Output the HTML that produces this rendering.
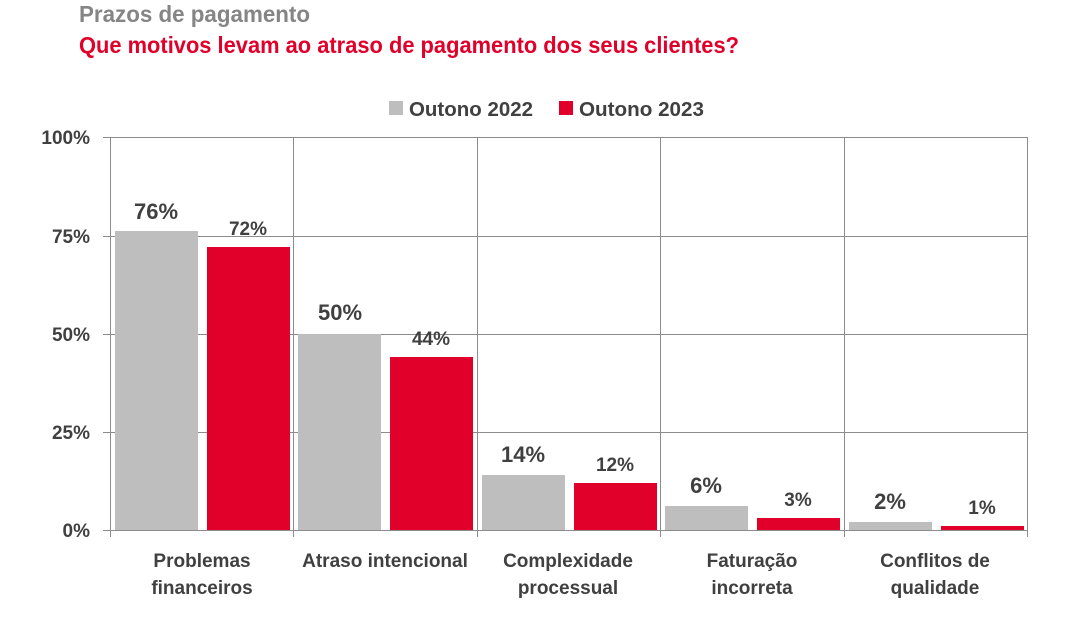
<!DOCTYPE html>
<html><head><meta charset="utf-8"><style>
body{margin:0;background:#fff}
svg{display:block}
text{font-family:"Liberation Sans Narrow","Liberation Sans",sans-serif;font-weight:bold}
</style></head><body>
<svg width="1085" height="621" viewBox="0 0 1085 621" xmlns="http://www.w3.org/2000/svg">
<text x="79" y="22" font-size="23" fill="#858585" textLength="231" lengthAdjust="spacingAndGlyphs">Prazos de pagamento</text>
<text x="79" y="53" font-size="23" fill="#e0002a" textLength="660" lengthAdjust="spacingAndGlyphs">Que motivos levam ao atraso de pagamento dos seus clientes?</text>
<rect x="389" y="101" width="14" height="14" fill="#bebebe"/>
<text x="409" y="116" font-size="20" fill="#404040" textLength="124" lengthAdjust="spacingAndGlyphs">Outono 2022</text>
<rect x="559" y="101" width="14" height="14" fill="#e0002a"/>
<text x="579" y="116" font-size="20" fill="#404040" textLength="125" lengthAdjust="spacingAndGlyphs">Outono 2023</text>
<g stroke="#8c8c8c" stroke-width="1">
<line x1="103" y1="137.5" x2="1027" y2="137.5"/>
<line x1="103" y1="236.5" x2="1027" y2="236.5"/>
<line x1="103" y1="334.5" x2="1027" y2="334.5"/>
<line x1="103" y1="432.5" x2="1027" y2="432.5"/>
<line x1="103" y1="530.5" x2="1027" y2="530.5"/>
<line x1="110.5" y1="137" x2="110.5" y2="537"/>
<line x1="293.5" y1="137" x2="293.5" y2="537"/>
<line x1="477.5" y1="137" x2="477.5" y2="537"/>
<line x1="660.5" y1="137" x2="660.5" y2="537"/>
<line x1="844.5" y1="137" x2="844.5" y2="537"/>
<line x1="1027.5" y1="137" x2="1027.5" y2="537"/>
</g>
<g font-size="19" fill="#404040" text-anchor="end">
<text x="90" y="144">100%</text><text x="90" y="243">75%</text><text x="90" y="341">50%</text><text x="90" y="439">25%</text><text x="90" y="537">0%</text>
</g>
<g fill="#bebebe">
<rect x="115" y="231" width="83" height="299"/>
<rect x="298" y="334" width="83" height="196"/>
<rect x="482" y="475" width="83" height="55"/>
<rect x="665" y="506" width="83" height="24"/>
<rect x="849" y="522" width="83" height="8"/>
</g>
<g fill="#e0002a">
<rect x="207" y="247" width="83" height="283"/>
<rect x="390" y="357" width="83" height="173"/>
<rect x="574" y="483" width="83" height="47"/>
<rect x="757" y="518" width="83" height="12"/>
<rect x="941" y="526" width="83" height="4"/>
</g>
<g fill="#404040" text-anchor="middle">
<text x="156" y="219" font-size="22">76%</text>
<text x="248" y="235" font-size="19">72%</text>
<text x="340" y="320" font-size="22">50%</text>
<text x="431" y="345" font-size="19">44%</text>
<text x="523" y="462" font-size="22">14%</text>
<text x="615" y="471" font-size="19">12%</text>
<text x="706" y="493" font-size="22">6%</text>
<text x="798" y="506" font-size="19">3%</text>
<text x="890" y="509" font-size="22">2%</text>
<text x="982" y="514" font-size="19">1%</text>
</g>
<g fill="#404040" text-anchor="middle" font-size="19">
<text x="202" y="567">Problemas</text><text x="202" y="594">financeiros</text>
<text x="385" y="567">Atraso intencional</text>
<text x="568" y="567">Complexidade</text><text x="568" y="594">processual</text>
<text x="752" y="567">Faturação</text><text x="752" y="594">incorreta</text>
<text x="935" y="567">Conflitos de</text><text x="935" y="594">qualidade</text>
</g>
</svg>
</body></html>
